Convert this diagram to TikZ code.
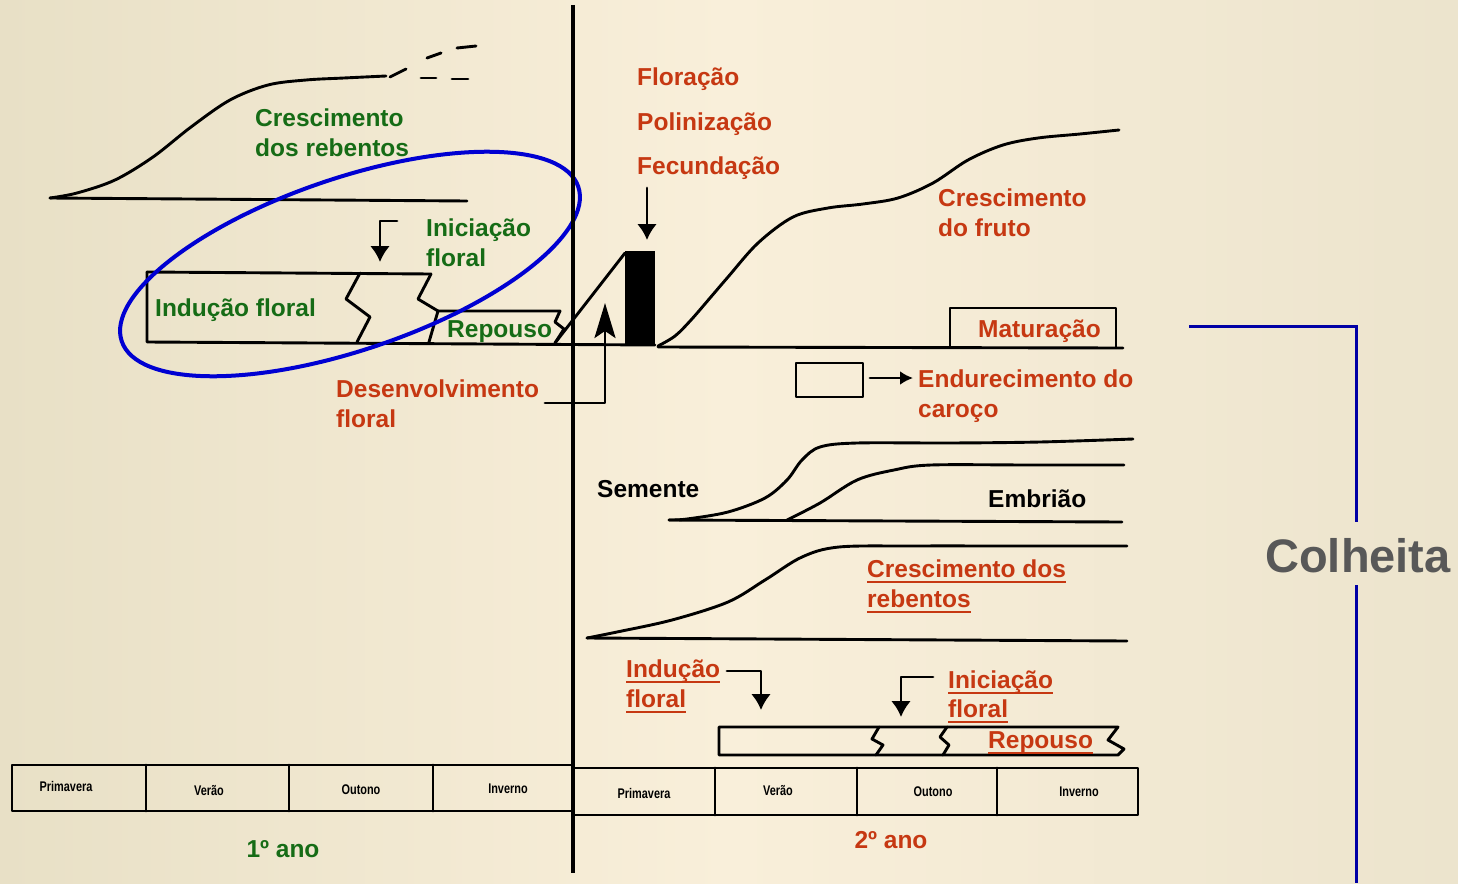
\documentclass[tikz,border=0pt]{standalone}
\usepackage{fontspec}
\setmainfont{Liberation Sans}
\usetikzlibrary{arrows.meta}
\definecolor{bgL}{RGB}{232,224,198}
\definecolor{bgM}{RGB}{249,239,218}
\definecolor{bgR}{RGB}{236,228,205}
\definecolor{grn}{RGB}{22,108,22}
\definecolor{rd}{RGB}{198,56,18}
\definecolor{blu}{RGB}{0,0,210}
\definecolor{dblu}{RGB}{0,0,165}
\definecolor{gry}{RGB}{88,88,88}
\newcommand{\ulin}[1]{\draw[rd, line width=2pt] ([yshift=-4.5pt]#1.base west) -- ([yshift=-4.5pt]#1.base east);}
\begin{document}
\begin{tikzpicture}[x=1pt,y=-1pt,
  ln/.style={line width=2.9pt, line join=round, line cap=round},
  lbl/.style={font=\fontsize{24.5}{28}\selectfont\bfseries, inner sep=0pt, anchor=base west},
  gl/.style={lbl, text=grn},
  rl/.style={lbl, text=rd},
  bl/.style={lbl, text=black},
  season/.style={font=\fontsize{14}{16}\selectfont\bfseries, xscale=0.78, inner sep=0pt},
  arr/.style={ln, -{Latex[length=16pt,width=20pt]}},
  sarr/.style={ln, -{Latex[length=13pt,width=14pt]}}]
\useasboundingbox (0,0) rectangle (1458,883);
\shade[left color=bgL, right color=bgR, middle color=bgM] (0,0) rectangle (1458,883);

% ---------- first year ----------
% shoot growth curve
\draw[ln] plot[smooth, tension=0.55] coordinates {(50,198) (77,193) (115,180) (153,157) (191,127) (230,100) (268,85) (306,80) (344,78) (386,76)};
\draw[ln] (50,198) -- (467,201);
\draw[ln] (390,77) -- (406,69);
\draw[ln] (427,58) -- (441,53);
\draw[ln] (457,48) -- (476,46);
\draw[ln] (421,78) -- (436,78);
\draw[ln] (452,79) -- (468,79);
\node[gl] (cr1) at (255,126) {Crescimento};
\node[gl] (cr2) at (255,156) {dos rebentos};

% floral induction box
\draw[ln] (147,272) -- (431,274);
\draw[ln] (147,272) -- (147,342) -- (655,345);
\draw[ln] (360,273) -- (346,299) -- (370,317) -- (357,342);
\draw[ln] (431,274) -- (418,299) -- (438,311) -- (429,342);
\draw[ln] (438,311) -- (560,311) -- (555,322) -- (564,329) -- (555,343);
\draw[ln] (555,343) -- (625,253);
\fill (625,251) rectangle (655,345);
\node[gl] (ind1) at (155,316) {Indução floral};
\node[gl] (rep1) at (447,337) {Repouso};
\node[gl] (ini1) at (426,236) {Iniciação};
\node[gl] (ini1b) at (426,266) {floral};
\coordinate (ia0) at (397,221);
\coordinate (ia1) at (380,221);
\coordinate (ia2) at (380,262);
\draw[arr] (ia0) -- (ia1) -- (ia2);

% development arrow
\coordinate (da0) at (545,403);
\coordinate (da1) at (605,403);
\coordinate (da2) at (605,303);
\draw[ln, -{Stealth[length=35pt,width=21pt,inset=7pt]}] (da0) -- (da1) -- (da2);
\node[rl] (des1) at (336,397) {Desenvolvimento};
\node[rl] (des2) at (336,427) {floral};

% flowering arrow
\coordinate (fa0) at (647,188);
\coordinate (fa1) at (647,240);
\draw[arr] (fa0) -- (fa1);
\node[rl] (flo) at (637,85) {Floração};
\node[rl] (pol) at (637,130) {Polinização};
\node[rl] (fec) at (637,174) {Fecundação};

% blue ellipse
\draw[blu, line width=4pt, rotate around={18.7:(350,264)}] (350,264) ellipse [x radius=241pt, y radius=86pt];

% ---------- second year ----------
% fruit growth
\draw[ln] plot[smooth, tension=0.55] coordinates {(658,346) (675,336) (691,320) (710,298) (728,277) (758,243) (793,217) (828,208) (863,204) (898,198) (933,183) (968,160) (1003,145) (1038,138) (1080,134) (1119,130)};
\draw[ln] (658,347) -- (1123,348);
\node[rl] (cf1) at (938,206) {Crescimento};
\node[rl] (cf2) at (938,236) {do fruto};
\draw[ln] (950,347) -- (950,308) -- (1116,308) -- (1116,347);
\node[rl] (mat) at (978,337) {Maturação};

% stone hardening
\draw[ln] (796,363) rectangle (863,397);
\coordinate (ea0) at (870,378);
\coordinate (ea1) at (913,378);
\draw[sarr] (ea0) -- (ea1);
\node[rl] (end1) at (918,387) {Endurecimento do};
\node[rl] (end2) at (918,417) {caroço};

% seed and embryo
\draw[ln] plot[smooth, tension=0.55] coordinates {(669,520) (687,519) (728,512) (765,498) (787,480) (802,460) (820,447) (857,443) (950,443) (1040,442) (1133,439)};
\draw[ln] plot[smooth, tension=0.55] coordinates {(787,520) (820,503) (857,480) (894,470) (931,465) (1030,465) (1124,465)};
\draw[ln] (669,520) -- (1122,522);
\node[bl] (sem) at (597,497) {Semente};
\node[bl] (emb) at (988,507) {Embrião};

% shoot growth 2
\draw[ln] plot[smooth, tension=0.55] coordinates {(587,638) (617,632) (672,620) (728,602) (765,580) (802,557) (839,547) (913,546) (1020,546) (1127,546)};
\draw[ln] (587,638) -- (1127,641);
\node[rl] (cr3) at (867,577) {Crescimento dos};
\node[rl] (cr4) at (867,607) {rebentos};
\ulin{cr3} \ulin{cr4}

% floral bar year 2
\node[rl] (ind2) at (626,677) {Indução};
\node[rl] (ind2b) at (626,707) {floral};
\ulin{ind2} \ulin{ind2b}
\coordinate (ib0) at (727,671);
\coordinate (ib1) at (761,671);
\coordinate (ib2) at (761,710);
\draw[arr] (ib0) -- (ib1) -- (ib2);
\node[rl] (ini2) at (948,688) {Iniciação};
\node[rl] (ini2b) at (948,717) {floral};
\ulin{ini2} \ulin{ini2b}
\coordinate (ic0) at (933,677);
\coordinate (ic1) at (901,677);
\coordinate (ic2) at (901,717);
\draw[arr] (ic0) -- (ic1) -- (ic2);
\draw[ln] (1118,727) -- (719,727) -- (719,755) -- (1118,755) -- (1124,749) -- (1108,740) -- cycle;
\draw[ln] (879,727) -- (872,739) -- (883,745) -- (876,755);
\draw[ln] (947,727) -- (940,737) -- (949,745) -- (943,755);
\node[rl] (rep2) at (988,748) {Repouso};
\ulin{rep2}

% ---------- seasons ----------
\draw[ln] (12,765) rectangle (573,811);
\draw[ln] (146,765) -- (146,811);
\draw[ln] (289,765) -- (289,811);
\draw[ln] (433,765) -- (433,811);
\draw[ln] (573,768) rectangle (1138,815);
\draw[ln] (715,768) -- (715,815);
\draw[ln] (857,768) -- (857,815);
\draw[ln] (997,768) -- (997,815);
\node[season] (s1) at (66,786) {Primavera};
\node[season] (s2) at (209,791) {Verão};
\node[season] (s3) at (361,790) {Outono};
\node[season] (s4) at (508,789) {Inverno};
\node[season] (s5) at (644,793) {Primavera};
\node[season] (s6) at (778,791) {Verão};
\node[season] (s7) at (933,792) {Outono};
\node[season] (s8) at (1079,792) {Inverno};
\node[gl, anchor=base] (y1) at (283,857) {1º ano};
\node[rl, anchor=base] (y2) at (891,848) {2º ano};

% main divider
\draw[line width=3.5pt] (573,5) -- (573,873);

% harvest
\node[font=\fontsize{47}{52}\selectfont\bfseries, text=gry, inner sep=0pt, anchor=base] (col) at (1358,572) {Colheita};
\coordinate (h0) at (1189,326);
\coordinate (h1) at (1356,326);
\coordinate (h2) at (1356,522);
\coordinate (h3) at (1356,585);
\coordinate (h4) at (1356,883);
\draw[dblu, line width=3pt] (h0) -- (h1) -- (h2);
\draw[dblu, line width=3pt] (h3) -- (h4);
\end{tikzpicture}
\end{document}
